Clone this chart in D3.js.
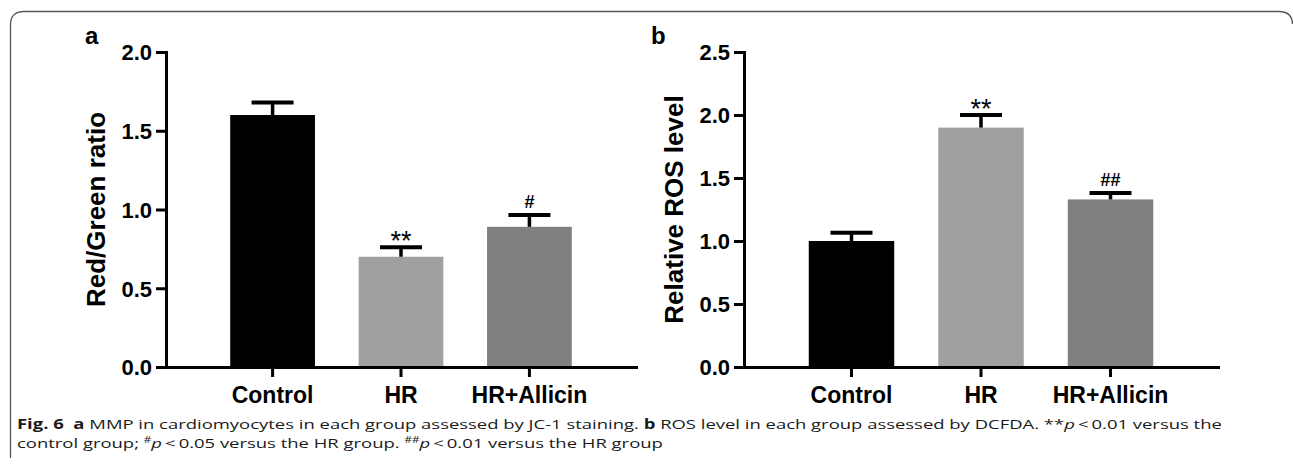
<!DOCTYPE html>
<html>
<head>
<meta charset="utf-8">
<script src="https://cdn.jsdelivr.net/npm/d3@7"></script>
<style>
  html, body { margin: 0; padding: 0; background: #fff; }
  svg { display: block; }
</style>
</head>
<body>
<svg id="chart" width="1293" height="467"></svg>
<script>
// ---- data ----
const categories = ["Control", "HR", "HR+Allicin"];
const barColors = ["#000000", "#a0a0a0", "#808080"];

const mmpValues = [1.60, 0.70, 0.89];
const mmpErrors = [0.08, 0.06, 0.075];
const mmpMarks = ["", "**", "#"];
const mmpTicks = [0.0, 0.5, 1.0, 1.5, 2.0];
const mmpTitle = "Red/Green ratio";

const rosValues = [1.00, 1.90, 1.33];
const rosErrors = [0.065, 0.10, 0.05];
const rosMarks = ["", "**", "##"];
const rosTicks = [0.0, 0.5, 1.0, 1.5, 2.0, 2.5];
const rosTitle = "Relative ROS level";

// ---- drawing ----
const svg = d3.select("#chart");
const FONT = "Arial, 'Liberation Sans', sans-serif";

// frame
svg.append("path")
  .attr("d", "M10.5,458 V25 Q10.5,11.5 24,11.5 H1279 Q1292,11.5 1292.5,24")
  .attr("fill", "none").attr("stroke", "#555").attr("stroke-width", 1.3);

function panel(opts) {
  const g = svg.append("g");
  const y = d3.scaleLinear().domain([0, opts.max]).range([367, 52]);
  const x = d3.scaleBand().domain(categories).range([opts.left, opts.right])
    .paddingInner(0.34).paddingOuter(0.5);

  // bars
  g.selectAll("rect.bar").data(categories).join("rect")
    .attr("x", d => x(d)).attr("width", x.bandwidth())
    .attr("y", (d, i) => y(opts.values[i]))
    .attr("height", (d, i) => y(0) - y(opts.values[i]))
    .attr("fill", (d, i) => barColors[i]);

  // error bars (upper)
  const capW = 42;
  g.selectAll("line.stem").data(categories).join("line")
    .attr("x1", d => x(d) + x.bandwidth() / 2).attr("x2", d => x(d) + x.bandwidth() / 2)
    .attr("y1", (d, i) => y(opts.values[i]))
    .attr("y2", (d, i) => y(opts.values[i] + opts.errors[i]))
    .attr("stroke", "#000").attr("stroke-width", 3.5);
  g.selectAll("line.cap").data(categories).join("line")
    .attr("x1", d => x(d) + x.bandwidth() / 2 - capW / 2)
    .attr("x2", d => x(d) + x.bandwidth() / 2 + capW / 2)
    .attr("y1", (d, i) => y(opts.values[i] + opts.errors[i]))
    .attr("y2", (d, i) => y(opts.values[i] + opts.errors[i]))
    .attr("stroke", "#000").attr("stroke-width", 4);

  // significance marks
  g.selectAll("text.mark").data(categories).join("text")
    .attr("x", d => x(d) + x.bandwidth() / 2)
    .attr("y", (d, i) => {
      const top = y(opts.values[i] + opts.errors[i]);
      return opts.marks[i].startsWith("#") ? top - 7 : top + 3;
    })
    .attr("text-anchor", "middle")
    .style("font-family", FONT)
    .style("font-size", (d, i) => opts.marks[i].startsWith("#") ? "18px" : "27px")
    .style("font-weight", (d, i) => opts.marks[i].startsWith("#") ? "bold" : "normal")
    .text((d, i) => opts.marks[i]);

  // y axis
  const ya = g.append("g").attr("transform", `translate(${opts.left},0)`)
    .call(d3.axisLeft(y).tickValues(opts.ticks).tickFormat(d3.format(".1f"))
      .tickSize(10).tickSizeOuter(0).tickPadding(4));
  // x axis
  const xa = g.append("g").attr("transform", "translate(0,367)")
    .call(d3.axisBottom(x).tickSize(10).tickSizeOuter(0).tickPadding(8));

  [ya, xa].forEach(a => {
    a.select(".domain").attr("stroke", "#000").attr("stroke-width", 3)
      .attr("stroke-linecap", "square");
    a.selectAll(".tick line").attr("stroke", "#000").attr("stroke-width", 3);
    a.selectAll(".tick text").attr("fill", "#000")
      .style("font-family", FONT).style("font-weight", "bold");
  });
  ya.selectAll(".tick text").style("font-size", "22px").attr("dy", "0.36em");
  xa.selectAll(".tick text").style("font-size", "23px").attr("dy", "0.8em");

  // y title
  g.append("text")
    .attr("transform", `translate(${opts.titleX},${(y(0) + y(opts.max)) / 2}) rotate(-90)`)
    .attr("text-anchor", "middle")
    .style("font-family", FONT).style("font-weight", "bold").style("font-size", "26px")
    .text(opts.title);

  // panel letter
  g.append("text")
    .attr("x", opts.letterX).attr("y", 44)
    .style("font-family", FONT).style("font-weight", "bold").style("font-size", "24px")
    .text(opts.letter);
}

panel({ left: 166, right: 636, max: 2.0, values: mmpValues, errors: mmpErrors,
        marks: mmpMarks, ticks: mmpTicks, title: mmpTitle, titleX: 105,
        letter: "a", letterX: 85 });
panel({ left: 744, right: 1218, max: 2.5, values: rosValues, errors: rosErrors,
        marks: rosMarks, ticks: rosTicks, title: rosTitle, titleX: 683,
        letter: "b", letterX: 651 });

// ---- caption ----
const CAP_FONT = "'Open Sans', 'Noto Sans', sans-serif";
const line1 = [
  { t: "Fig. 6", b: true }, { t: "\u00a0\u00a0" }, { t: "a", b: true },
  { t: " MMP in cardiomyocytes in each group assessed by JC-1 staining. " },
  { t: "b", b: true }, { t: " ROS level in each group assessed by DCFDA. **" },
  { t: "p", i: true }, { t: "\u2009<\u20090.01 versus the" }
];
const line2 = [
  { t: "control group; " }, { t: "#", sup: true }, { t: "p", i: true },
  { t: "\u2009<\u20090.05 versus the HR group. " }, { t: "##", sup: true },
  { t: "p", i: true }, { t: "\u2009<\u20090.01 versus the HR group" }
];

function captionLine(parts, yBase) {
  const g = svg.append("g");
  const t = g.append("text").attr("x", 0).attr("y", 0)
    .style("font-family", CAP_FONT).style("font-size", "13.5px").attr("fill", "#1a1a1a");
  parts.forEach(p => {
    const s = t.append("tspan").text(p.t);
    if (p.b) s.style("font-weight", "bold");
    if (p.i) s.style("font-style", "italic");
    if (p.sup) s.style("font-size", "8.5px").attr("baseline-shift", "4.5");
  });
  return { g, t, yBase };
}
const c1 = captionLine(line1, 428.5);
const c2 = captionLine(line2, 447.5);
const targetW = 1223 - 17;
const sx = targetW / c1.t.node().getComputedTextLength();
[c1, c2].forEach(c => c.g.attr("transform", `translate(17,${c.yBase}) scale(${sx},1)`));
</script>
</body>
</html>
